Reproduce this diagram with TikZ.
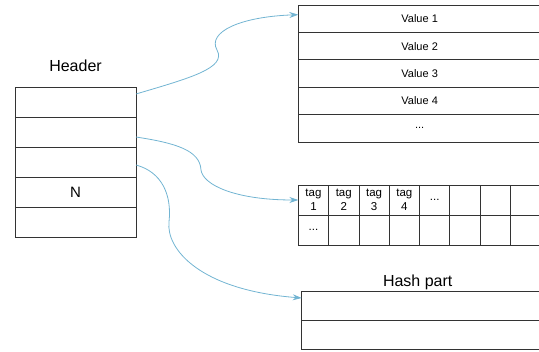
\documentclass[tikz,border=0pt]{standalone}
\usepackage{xcolor}
\usepackage{fontspec}
\setmainfont{Liberation Sans}
\usepackage{tikz}
\usetikzlibrary{positioning,arrows.meta}
\definecolor{cellline}{HTML}{333333}
\definecolor{linkblue}{HTML}{72B4D2}

\begin{document}
\begin{tikzpicture}[
  x=1pt, y=-1pt,
  >={Stealth[length=9pt,width=6pt]},
  node distance=0pt,
  headcell/.style={draw=cellline, line width=0.8pt, outer sep=0pt, inner sep=0pt, minimum width=121pt, minimum height=30pt, font=\fontsize{15}{17}\selectfont},
  valcell/.style={draw=cellline, line width=0.8pt, outer sep=0pt, inner sep=0pt, minimum width=242.7pt, minimum height=27.4pt, font=\fontsize{11}{13}\selectfont},
  tagcell/.style={draw=cellline, line width=0.8pt, outer sep=0pt, inner sep=0pt, minimum width=30.3pt, minimum height=30pt, align=center, font=\fontsize{11.5}{13.5}\selectfont},
  hashcell/.style={draw=cellline, line width=0.8pt, outer sep=0pt, inner sep=0pt, minimum width=240pt, minimum height=29pt},
  title/.style={inner sep=0pt, font=\fontsize{16}{18}\selectfont},
  link/.style={->, color=linkblue, line width=0.8pt}
]
\useasboundingbox (0,0) rectangle (539,352);

\node[headcell, anchor=north west] (h1) at (15,87) {};
\node[headcell, below=of h1] (h2) {};
\node[headcell, below=of h2] (h3) {};
\node[headcell, below=of h3] (h4) {N};
\node[headcell, below=of h4] (h5) {};
\node[title, above=15pt of h1] (header) {Header};

\node[valcell, anchor=north west] (v1) at (298.3,5) {Value 1};
\node[valcell, below=of v1] (v2) {Value 2};
\node[valcell, below=of v2] (v3) {Value 3};
\node[valcell, below=of v3] (v4) {Value 4};
\node[valcell, below=of v4] (v5) {...};

\node[tagcell, anchor=north west] (t1) at (298.3,185) {tag\\1};
\node[tagcell, right=of t1] (t2) {tag\\2};
\node[tagcell, right=of t2] (t3) {tag\\3};
\node[tagcell, right=of t3] (t4) {tag\\4};
\node[tagcell, right=of t4] (t5) {...};
\node[tagcell, right=of t5] (t6) {};
\node[tagcell, right=of t6] (t7) {};
\node[tagcell, right=of t7] (t8) {};
\node[tagcell, below=of t1] (u1) {...};
\node[tagcell, right=of u1] (u2) {};
\node[tagcell, right=of u2] (u3) {};
\node[tagcell, right=of u3] (u4) {};
\node[tagcell, right=of u4] (u5) {};
\node[tagcell, right=of u5] (u6) {};
\node[tagcell, right=of u6] (u7) {};
\node[tagcell, right=of u7] (u8) {};

\node[hashcell, anchor=north west] (hash1) at (301.7,291) {};
\node[hashcell, below=of hash1] (hash2) {};
\node[title, above=0.5pt of hash1, xshift=-4pt] (hashlabel) {Hash part};

% bends of the curved links
\coordinate (bend1) at (217,50);
\coordinate (bend2) at (201,170);
\coordinate (bend3) at (169,222);

\draw[link] ([yshift=8pt]h1.east) .. controls +(54,-16) and +(10,18) .. (bend1)
  .. controls +(-10,-18) and +(-58,2) .. ([yshift=4pt]v1.west);
\draw[link] ([yshift=-5pt]h2.east) .. controls +(39,6) and +(-1,-20) .. (bend2)
  .. controls +(2,15) and +(-63,0) .. (t1.west);
\draw[link] ([yshift=-3pt]h3.east) .. controls +(26,7) and +(3,-27) .. (bend3)
  .. controls +(-3,27) and +(-102,-8) .. ([yshift=7.5pt]hash1.west);
\end{tikzpicture}
\end{document}
